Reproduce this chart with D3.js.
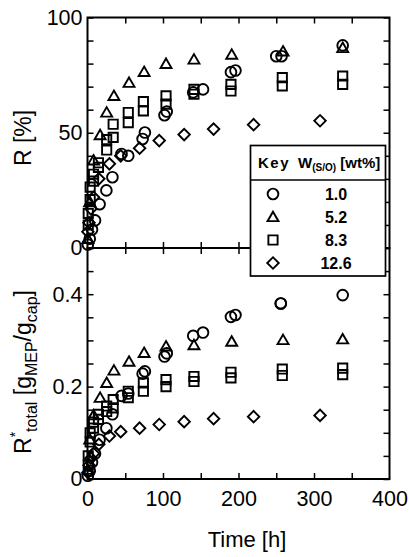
<!DOCTYPE html>
<html><head><meta charset="utf-8">
<script src="https://cdn.jsdelivr.net/npm/d3@7"></script>
<style>
html,body{margin:0;padding:0;background:#fff;}
svg{display:block;font-family:"Liberation Sans",Arial,sans-serif;}
</style></head>
<body>
<svg id="chart" width="409" height="557"></svg>
<script>
// ---------- data ----------
const seriesKeys = ["1.0", "5.2", "8.3", "12.6"];
const seriesSymbols = ["circle", "triangle", "square", "diamond"];

// W = 1.0 wt% (circles)
const timeC  = [0.5, 3, 6, 10, 16, 25, 33, 45, 54, 73, 76, 102, 105, 140, 153, 190, 196, 250, 257, 338];
const rC     = [1.5, 4, 8, 12, 19, 25, 30.7, 40.8, 40, 47.3, 50.1, 57.6, 59.2, 67.5, 68.8, 76.3, 77, 83.2, 83.2, 87.9];
const timeCb = [0.5, 3, 6, 10, 16, 25, 33, 45, 54, 73, 76, 102, 105, 140, 153, 190, 196, 256, 256, 338];
const rtC    = [0.007, 0.018, 0.036, 0.055, 0.085, 0.11, 0.14, 0.18, 0.185, 0.228, 0.233, 0.265, 0.272, 0.31, 0.317, 0.351, 0.355, 0.38, 0.38, 0.398];

// W = 5.2 wt% (triangles)
const timeT = [0.5, 3, 8, 16.7, 25.4, 35, 55, 75, 104, 141, 191, 259, 338];
const rT    = [4, 20, 38, 49, 58.8, 66, 71.7, 76.4, 79.9, 81.8, 83.9, 85.3, 86.8];
const rtT   = [0.02, 0.086, 0.138, 0.176, 0.208, 0.235, 0.254, 0.273, 0.287, 0.29, 0.2975, 0.301, 0.3025];

// W = 8.3 wt% (squares, two replicate runs)
const timeS = [1, 3.5, 8, 14.5, 25.4, 34, 54, 74, 104, 141, 190, 258, 338];
const rSa   = [10, 26.4, 32, 37, 42.5, 48, 58.8, 63.5, 66, 68.8, 71, 73.9, 74.6];
const rSb   = [15, 21, 29, 35, 47, 53.7, 54.4, 59.5, 62.4, 66.7, 68.1, 70.3, 71];
const rtSa  = [0.05, 0.1, 0.123, 0.14, 0.158, 0.172, 0.19, 0.208, 0.215, 0.222, 0.231, 0.238, 0.24];
const rtSb  = [0.03, 0.08, 0.11, 0.129, 0.146, 0.154, 0.176, 0.19, 0.2, 0.211, 0.219, 0.224, 0.226];

// W = 12.6 wt% (diamonds)
const timeD = [0.5, 2, 4.5, 8, 15, 29, 44, 69, 95, 128, 167, 220, 308];
const rD    = [7, 11, 17, 22, 30, 36.5, 40, 43.3, 46.6, 49.2, 51.6, 53.5, 55.2];
const rtD   = [0.014, 0.03, 0.045, 0.055, 0.075, 0.093, 0.1025, 0.11, 0.118, 0.124, 0.1305, 0.135, 0.1376];

const xTickLabels = [0, 100, 200, 300, 400];
const yTopTickLabels = [0, 50, 100];
const yBotTickLabels = [0, 0.2, 0.4];

// ---------- layout ----------
const svg = d3.select("#chart");
const L = 87.5, R = 389.5, TOP = 17.5, MID = 248, BOT = 479;
const x = d3.scaleLinear().domain([0, 400]).range([L, R]);
const yTop = d3.scaleLinear().domain([0, 100]).range([MID, TOP]);
const yBot = d3.scaleLinear().domain([0, 0.5]).range([BOT, MID]);
const FS = 21.5;

function zip(ts, vs) { return ts.map((t, i) => ({t, v: vs[i]})); }

const symType = {circle: d3.symbolCircle, triangle: d3.symbolTriangle, square: d3.symbolSquare, diamond: d3.symbolSquare};
const symSize = {circle: 90, triangle: 52, square: 85, diamond: 66};
function symPath(kind) { return d3.symbol().type(symType[kind]).size(symSize[kind])(); }
function symXf(kind) { return kind === "diamond" ? " rotate(45)" : (kind === "triangle" ? " translate(0,1)" : ""); }

function drawPoints(g, data, kind, y) {
  g.selectAll(null).data(data).enter().append("path")
    .attr("d", symPath(kind))
    .attr("transform", d => `translate(${x(d.t)},${y(d.v)})` + symXf(kind))
    .attr("fill", "none").attr("stroke", "#000").attr("stroke-width", 1.9);
}

// ---------- axes (inward ticks) ----------
function tickAxes(yScale, yStep, yMax) {
  const yt = d3.range(0, yMax + 1e-9, yStep);
  svg.append("g").attr("transform", `translate(${L},0)`)
    .call(d3.axisLeft(yScale).tickValues(yt).tickSize(-6).tickFormat(""))
    .call(g => g.select(".domain").remove());
  svg.append("g").attr("transform", `translate(${R},0)`)
    .call(d3.axisRight(yScale).tickValues(yt).tickSize(-6).tickFormat(""))
    .call(g => g.select(".domain").remove());
  const xt = d3.range(50, 400, 50);
  const [y0, y1] = yScale.range();
  svg.append("g").attr("transform", `translate(0,${y0})`)
    .call(d3.axisBottom(x).tickValues(xt).tickSize(-6).tickFormat(""))
    .call(g => g.select(".domain").remove());
  svg.append("g").attr("transform", `translate(0,${y1})`)
    .call(d3.axisTop(x).tickValues(xt).tickSize(-6).tickFormat(""))
    .call(g => g.select(".domain").remove());
}
tickAxes(yTop, 10, 100);
tickAxes(yBot, 0.05, 0.5);
svg.selectAll(".tick line").attr("stroke", "#000").attr("stroke-width", 1.5);

// frames
[[TOP, MID], [MID, BOT]].forEach(([a, b]) => {
  svg.append("rect").attr("x", L).attr("y", a).attr("width", R - L).attr("height", b - a)
    .attr("fill", "none").attr("stroke", "#000").attr("stroke-width", 2);
});

// tick labels
const lblAxisTop = d3.axisLeft(yTop).tickValues(yTopTickLabels).tickSize(0).tickPadding(5).tickFormat(d3.format("d"));
svg.append("g").attr("class", "lbl").attr("transform", `translate(${L},0)`).call(lblAxisTop);
const lblAxisBot = d3.axisLeft(yBot).tickValues(yBotTickLabels).tickSize(0).tickPadding(5).tickFormat(d => d === 0 ? "0" : d3.format(".1f")(d));
svg.append("g").attr("class", "lbl").attr("transform", `translate(${L},0)`).call(lblAxisBot);
const lblAxisX = d3.axisBottom(x).tickValues(xTickLabels).tickSize(0).tickPadding(12).tickFormat(d3.format("d"));
svg.append("g").attr("class", "lbl").attr("transform", `translate(0,${BOT})`).call(lblAxisX);
svg.selectAll(".lbl .domain").remove();
svg.selectAll(".lbl text").attr("font-size", FS).attr("fill", "#000")
  .attr("font-family", "Liberation Sans, Arial, sans-serif");

// ---------- points ----------
const gp = svg.append("g");
drawPoints(gp, zip(timeC, rC), "circle", yTop);
drawPoints(gp, zip(timeT, rT), "triangle", yTop);
drawPoints(gp, zip(timeS, rSa), "square", yTop);
drawPoints(gp, zip(timeS, rSb), "square", yTop);
drawPoints(gp, zip(timeD, rD), "diamond", yTop);
drawPoints(gp, zip(timeCb, rtC), "circle", yBot);
drawPoints(gp, zip(timeT, rtT), "triangle", yBot);
drawPoints(gp, zip(timeS, rtSa), "square", yBot);
drawPoints(gp, zip(timeS, rtSb), "square", yBot);
drawPoints(gp, zip(timeD, rtD), "diamond", yBot);

// ---------- axis titles ----------
svg.append("text").attr("x", 247).attr("y", 547).attr("text-anchor", "middle")
  .attr("font-size", 22).text("Time [h]");
svg.append("text").attr("transform", "translate(31,138) rotate(-90)").attr("text-anchor", "middle")
  .attr("font-size", 23).text("R [%]");
const yl = svg.append("text").attr("transform", "translate(31,372) rotate(-90)")
  .attr("text-anchor", "middle").attr("font-size", 23);
yl.append("tspan").text("R");
yl.append("tspan").attr("font-size", 14).attr("dy", -11).text("*");
yl.append("tspan").attr("font-size", 16).attr("dy", 17).text("total");
yl.append("tspan").attr("dy", -6).text(" [g");
yl.append("tspan").attr("font-size", 16).attr("dy", 6).text("MEP");
yl.append("tspan").attr("dy", -6).text("/g");
yl.append("tspan").attr("font-size", 16).attr("dy", 6).text("cap");
yl.append("tspan").attr("dy", -6).text("]");

// ---------- legend ----------
const lg = svg.append("g");
const LX0 = 250.5, LX1 = 385.5, LY0 = 145.5, LY1 = 276, LSEP = 180;
lg.append("rect").attr("x", LX0).attr("y", LY0).attr("width", LX1 - LX0).attr("height", LY1 - LY0)
  .attr("fill", "#fff").attr("stroke", "#000").attr("stroke-width", 1.7);
lg.append("line").attr("x1", LX0).attr("x2", LX1).attr("y1", LSEP).attr("y2", LSEP)
  .attr("stroke", "#000").attr("stroke-width", 1.5);
lg.append("text").attr("x", 258).attr("y", 168).attr("font-size", 15).attr("font-weight", "bold")
  .attr("letter-spacing", 1.5).text("Key");
const wh = lg.append("text").attr("x", 298).attr("y", 168).attr("font-size", 15).attr("font-weight", "bold");
wh.append("tspan").text("W");
wh.append("tspan").attr("font-size", 10).attr("dy", 3).text("(S/O)");
wh.append("tspan").attr("dy", -3).text(" [wt%]");
const rowY = d3.scaleLinear().domain([0, 3]).range([194, 263]);
seriesKeys.forEach((k, i) => {
  const kind = seriesSymbols[i];
  lg.append("path").attr("d", symPath(kind))
    .attr("transform", `translate(273,${rowY(i)})` + symXf(kind))
    .attr("fill", "none").attr("stroke", "#000").attr("stroke-width", 1.9);
  lg.append("text").attr("x", 336).attr("y", rowY(i) + 5.5).attr("text-anchor", "middle")
    .attr("font-size", 16).attr("font-weight", "bold").text(k);
});
</script>
</body></html>
